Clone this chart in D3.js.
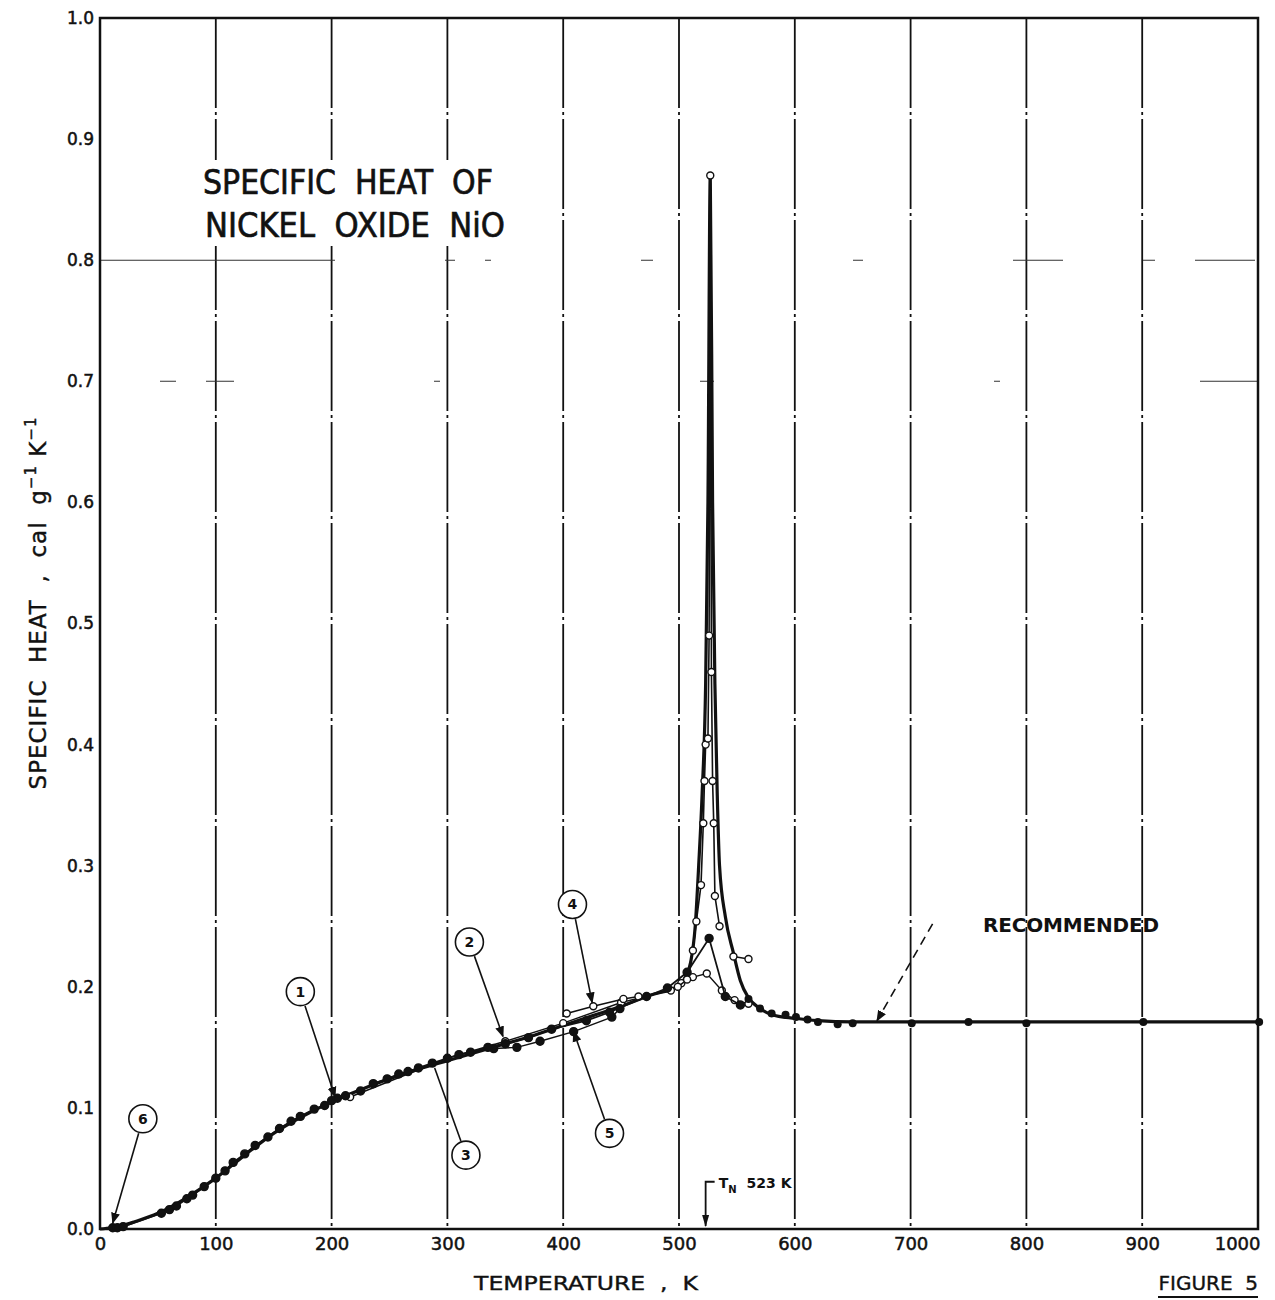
<!DOCTYPE html>
<html>
<head>
<meta charset="utf-8">
<script src="https://cdn.jsdelivr.net/npm/d3@7"></script>
<style>
  body { margin: 0; background: #fff; }
  text { font-family: 'DejaVu Sans', sans-serif; fill: #111; white-space: pre; }
</style>
</head>
<body>
<svg></svg>
<script>
const width = 1275
const height = 1300

// tick labels
const xTicks = [0, 100, 200, 300, 400, 500, 600, 700, 800, 900, 1000]
const yTicks = [0, 0.1, 0.2, 0.3, 0.4, 0.5, 0.6, 0.7, 0.8, 0.9, 1.0]

// recommended curve (temperature K, specific heat cal/g/K)
const recT = [0, 10, 20, 30, 50, 75, 100, 125, 150, 175, 200, 225, 250, 275, 300, 325, 350, 375, 400, 425, 450, 475, 500, 505, 510, 514, 517, 520, 523, 525, 527, 529, 531, 533, 535, 540, 547, 553, 560, 570, 580, 600, 620, 650, 700, 800, 900, 1000]
const recC = [0, 0.001, 0.003, 0.006, 0.013, 0.026, 0.042, 0.061, 0.079, 0.093, 0.105, 0.115, 0.124, 0.132, 0.139, 0.146, 0.153, 0.160, 0.168, 0.176, 0.184, 0.193, 0.201, 0.207, 0.220, 0.250, 0.300, 0.360, 0.450, 0.600, 0.870, 0.600, 0.450, 0.360, 0.300, 0.258, 0.228, 0.205, 0.191, 0.182, 0.177, 0.174, 0.172, 0.171, 0.171, 0.171, 0.171, 0.171]
const recDotT = [560, 570, 580, 592, 601, 611, 620, 637, 650, 701, 750, 800, 901, 1001]
const recDotC = [0.190, 0.182, 0.178, 0.177, 0.175, 0.173, 0.171, 0.169, 0.170, 0.170, 0.171, 0.170, 0.171, 0.171]

// data set 1 (filled)
const s1T = [11, 15, 20, 53, 60, 66, 75, 80, 90, 100, 108, 115, 125, 134, 145, 155, 165, 173, 185, 194, 200, 205, 212]
const s1C = [0.001, 0.001, 0.002, 0.013, 0.016, 0.019, 0.025, 0.028, 0.035, 0.042, 0.048, 0.055, 0.062, 0.069, 0.076, 0.083, 0.089, 0.093, 0.099, 0.102, 0.106, 0.108, 0.110]
// data set 3 (filled)
const s3T = [225, 236, 248, 258, 266, 275, 287, 300, 310, 320, 335, 350, 370, 390, 420, 440, 472, 490, 507, 526, 540, 553]
const s3C = [0.114, 0.120, 0.124, 0.128, 0.130, 0.133, 0.137, 0.141, 0.144, 0.146, 0.150, 0.153, 0.158, 0.165, 0.172, 0.179, 0.192, 0.199, 0.212, 0.240, 0.192, 0.185]
// data set 2 (open)
const s2T = [216, 300, 350, 400, 450, 493, 502, 512, 524, 537, 548, 560]
const s2C = [0.109, 0.141, 0.155, 0.170, 0.187, 0.197, 0.203, 0.208, 0.211, 0.197, 0.189, 0.186]
// data set 4 (open)
const s4T = [403, 426, 452, 465]
const s4C = [0.178, 0.184, 0.190, 0.192]
// data set 5 (filled, lower)
const s5T = [340, 360, 380, 409, 442, 449]
const s5C = [0.149, 0.150, 0.155, 0.163, 0.175, 0.182]
// peak measurements (open)
const pkT = [499, 507, 512, 515, 519, 521, 522, 523, 525, 526, 527, 528, 529, 530, 531, 535]
const pkC = [0.200, 0.206, 0.230, 0.254, 0.284, 0.335, 0.370, 0.400, 0.405, 0.490, 0.870, 0.460, 0.370, 0.335, 0.275, 0.250]
const tailT = [547, 560]
const tailC = [0.225, 0.223]

// numbered curve labels: label, circle position, arrow tip (data units)
const tagNames = ['1', '2', '3', '4', '5', '6']
const tagT = [173, 319, 316, 408, 440, 37]
const tagC = [0.196, 0.237, 0.061, 0.268, 0.079, 0.091]
const tipT = [203, 348, 289, 425, 409, 11]
const tipC = [0.109, 0.159, 0.133, 0.187, 0.163, 0.005]

const svg = d3.select('svg')
  .attr('width', width)
  .attr('height', height)

const x = d3.scaleLinear().domain([0, 1000]).range([100, 1258])
const y = d3.scaleLinear().domain([0, 1]).range([1229, 18])

svg.append('defs').append('marker')
  .attr('id', 'arr')
  .attr('viewBox', '0 0 10 10')
  .attr('refX', 9).attr('refY', 5)
  .attr('markerWidth', 7).attr('markerHeight', 7)
  .attr('orient', 'auto')
  .append('path')
  .attr('d', 'M0,1 L10,5 L0,9 z')
  .attr('fill', '#111')

// vertical grid lines
svg.append('g')
  .selectAll('line')
  .data(xTicks.slice(1, -1))
  .enter().append('line')
  .attr('x1', (d) => x(d)).attr('x2', (d) => x(d))
  .attr('y1', y(1)).attr('y2', y(0))
  .attr('stroke', '#111')
  .attr('stroke-width', 1.8)
  .attr('stroke-dasharray', '90,4,3,4')

// faint, broken horizontal grid
svg.append('g')
  .selectAll('line')
  .data([0.7, 0.8])
  .enter().append('line')
  .attr('x1', x(0)).attr('x2', x(1000))
  .attr('y1', (d) => y(d)).attr('y2', (d) => y(d))
  .attr('stroke', '#333')
  .attr('stroke-width', 1.1)
  .attr('stroke-dasharray', (d) => d === 0.8 ? '235,110,10,30,6,150,12,200,10,150,50,80,12,40,60' : '0,60,16,30,28,200,6,260,14,280,6,200,18')

// frame
svg.append('rect')
  .attr('x', x(0)).attr('y', y(1))
  .attr('width', x(1000) - x(0)).attr('height', y(0) - y(1))
  .attr('fill', 'none')
  .attr('stroke', '#111')
  .attr('stroke-width', 2.5)

// axes
const xAxis = svg.append('g')
  .attr('transform', `translate(0, ${y(0)})`)
  .call(d3.axisBottom(x).tickValues(xTicks).tickSize(0).tickPadding(8).tickFormat(d3.format('d')))
  .call((g) => g.select('.domain').remove())
xAxis.selectAll('text')
  .style('font-size', '18px')
  .style('font-family', 'DejaVu Sans, sans-serif')
  .attr('fill', '#111')
  .attr('stroke', '#111')
  .attr('stroke-width', 0.5)
xAxis.selectAll('.tick:last-of-type text').attr('text-anchor', 'end').attr('dx', 2)

const yAxis = svg.append('g')
  .attr('transform', `translate(${x(0)}, 0)`)
  .call(d3.axisLeft(y).tickValues(yTicks).tickSize(0).tickPadding(6).tickFormat(d3.format('.1f')))
  .call((g) => g.select('.domain').remove())
yAxis.selectAll('text')
  .style('font-size', '17px')
  .style('font-family', 'DejaVu Sans, sans-serif')
  .attr('fill', '#111')
  .attr('stroke', '#111')
  .attr('stroke-width', 0.5)

const pts = (ts, cs) => ts.map((t, i) => [t, cs[i]])
const line = d3.line().x((d) => x(d[0])).y((d) => y(d[1]))

// recommended curve
svg.append('path')
  .datum(pts(recT, recC))
  .attr('d', line.curve(d3.curveMonotoneX))
  .attr('fill', 'none')
  .attr('stroke', '#111')
  .attr('stroke-width', 3.2)

const thin = d3.line().x((d) => x(d[0])).y((d) => y(d[1]))
const drawSet = (ts, cs, open, w) => {
  svg.append('path')
    .datum(pts(ts, cs))
    .attr('d', thin)
    .attr('fill', 'none')
    .attr('stroke', '#111')
    .attr('stroke-width', w)
  svg.append('g')
    .selectAll('circle')
    .data(pts(ts, cs))
    .enter().append('circle')
    .attr('cx', (d) => x(d[0]))
    .attr('cy', (d) => y(d[1]))
    .attr('r', open ? 3.5 : 4)
    .attr('fill', open ? '#fff' : '#111')
    .attr('stroke', '#111')
    .attr('stroke-width', 1.4)
}

drawSet(s2T, s2C, true, 1.4)
drawSet(s5T, s5C, false, 1.4)
drawSet(s4T, s4C, true, 1.6)
drawSet(s3T, s3C, false, 1.8)
drawSet(s1T, s1C, false, 1.8)
drawSet(pkT, pkC, true, 1.6)
drawSet(tailT, tailC, true, 1.4)

svg.append('g')
  .selectAll('circle')
  .data(pts(recDotT, recDotC))
  .enter().append('circle')
  .attr('cx', (d) => x(d[0]))
  .attr('cy', (d) => y(d[1]))
  .attr('r', 4)
  .attr('fill', '#111')

// numbered labels with leader lines
const tags = tagNames.map((n, i) => ({ n, t: tagT[i], c: tagC[i], tt: tipT[i], tc: tipC[i] }))
tags.forEach((d) => {
  const cx = x(d.t), cy = y(d.c), tx = x(d.tt), ty = y(d.tc)
  const a = Math.atan2(ty - cy, tx - cx)
  svg.append('line')
    .attr('x1', cx + 15 * Math.cos(a)).attr('y1', cy + 15 * Math.sin(a))
    .attr('x2', tx).attr('y2', ty)
    .attr('stroke', '#111')
    .attr('stroke-width', 1.6)
    .attr('marker-end', d.n === '3' ? null : 'url(#arr)')
  svg.append('circle')
    .attr('cx', cx).attr('cy', cy).attr('r', 14)
    .attr('fill', '#fff')
    .attr('stroke', '#111')
    .attr('stroke-width', 1.6)
  svg.append('text')
    .attr('x', cx).attr('y', cy + 5)
    .attr('text-anchor', 'middle')
    .style('font-size', '14px')
    .style('font-weight', 'bold')
    .text(d.n)
})

// recommended label and dashed arrow
svg.append('line')
  .attr('x1', x(719)).attr('y1', y(0.252))
  .attr('x2', x(671)).attr('y2', y(0.172))
  .attr('stroke', '#111')
  .attr('stroke-width', 1.6)
  .attr('stroke-dasharray', '9,6')
  .attr('marker-end', 'url(#arr)')

svg.append('text')
  .attr('x', 983).attr('y', 932)
  .style('font-size', '20px')
  .style('font-weight', 'bold')
  .attr('textLength', 176)
  .text('RECOMMENDED')

// Neel temperature marker
svg.append('path')
  .attr('d', `M${x(523)},${y(0) - 3} L${x(523)},${y(0.039)} L${x(523) + 9},${y(0.039)}`)
  .attr('fill', 'none')
  .attr('stroke', '#111')
  .attr('stroke-width', 1.8)
svg.append('path')
  .attr('d', `M${x(523) - 3.5},${y(0) - 14} L${x(523) + 3.5},${y(0) - 14} L${x(523)},${y(0) - 2} z`)
  .attr('fill', '#111')
const tn = svg.append('text')
  .attr('x', x(523) + 13).attr('y', y(0.039) + 6)
  .style('font-size', '14px')
  .style('font-weight', 'bold')
tn.append('tspan').text('T')
tn.append('tspan').attr('dy', 5).style('font-size', '10px').text('N')
tn.append('tspan').attr('dy', -5).attr('dx', 10).text('523 K')

// title, on a white patch that hides the grid
svg.append('rect')
  .attr('x', 196).attr('y', 160)
  .attr('width', 320).attr('height', 86)
  .attr('fill', '#fff')
svg.append('text')
  .attr('x', 203).attr('y', 194)
  .style('font-size', '33px')
  .attr('stroke', '#111').attr('stroke-width', 0.7)
  .attr('textLength', 290)
  .attr('lengthAdjust', 'spacingAndGlyphs')
  .text('SPECIFIC  HEAT  OF')
svg.append('text')
  .attr('x', 205).attr('y', 237)
  .style('font-size', '33px')
  .attr('stroke', '#111').attr('stroke-width', 0.7)
  .attr('textLength', 300)
  .attr('lengthAdjust', 'spacingAndGlyphs')
  .text('NICKEL  OXIDE  NiO')

// axis titles
svg.append('text')
  .attr('x', 586).attr('y', 1290)
  .attr('text-anchor', 'middle')
  .style('font-size', '20px')
  .attr('stroke', '#111').attr('stroke-width', 0.4)
  .attr('textLength', 224)
  .attr('lengthAdjust', 'spacingAndGlyphs')
  .text('TEMPERATURE  ,  K')

svg.append('text')
  .attr('x', 1258).attr('y', 1290)
  .attr('text-anchor', 'end')
  .style('font-size', '20px')
  .attr('stroke', '#111').attr('stroke-width', 0.4)
  .text('FIGURE  5')
svg.append('line')
  .attr('x1', 1158).attr('x2', 1258)
  .attr('y1', 1297).attr('y2', 1297)
  .attr('stroke', '#111')
  .attr('stroke-width', 2)

const yt = svg.append('text')
  .attr('transform', 'translate(46, 603) rotate(-90)')
  .attr('text-anchor', 'middle')
  .style('font-size', '23px')
  .style('letter-spacing', '1px')
  .attr('stroke', '#111').attr('stroke-width', 0.4)
yt.append('tspan').text('SPECIFIC  HEAT  ,  cal  g')
yt.append('tspan').attr('dy', -10).style('font-size', '15px').text('−1')
yt.append('tspan').attr('dy', 10).text(' K')
yt.append('tspan').attr('dy', -10).style('font-size', '15px').text('−1')
</script>
</body>
</html>
